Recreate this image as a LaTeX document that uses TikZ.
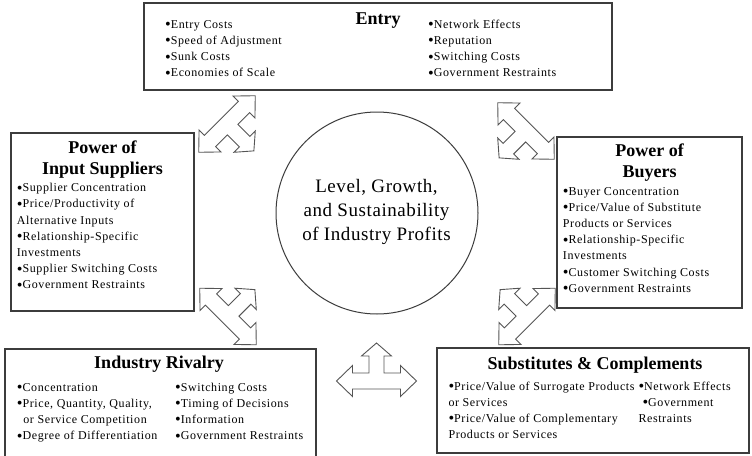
\documentclass[tikz,border=0pt]{standalone}
\usepackage{fontspec}
\usepackage{graphicx}
\setmainfont{Liberation Serif}
\newfontfamily\bodyfont[LetterSpace=5]{Liberation Serif}
\newfontfamily\circfont[LetterSpace=3]{Liberation Serif}
\newcommand\mycol[1]{\begin{tabular}[t]{@{}l@{}}#1\end{tabular}}
\newcommand\myctr[1]{\begin{tabular}[t]{@{}c@{}}#1\end{tabular}}
\newcommand\bl{\raisebox{-0.12em}{\scalebox{1.35}{\textbullet}}}
\definecolor{boxgray}{HTML}{3C3C3C}
\definecolor{arrgray}{HTML}{555555}
\tikzset{
  box/.style={draw=boxgray, line width=1.2pt, rectangle, inner sep=0pt},
  body/.style={anchor=base west, inner sep=0pt, font=\bodyfont\fontsize{12}{16.2}\selectfont},
  boxtitle/.style={anchor=base, inner sep=0pt, font=\bfseries\fontsize{18}{21}\selectfont},
  circtext/.style={anchor=base, inner sep=0pt, font=\circfont\fontsize{19}{24}\selectfont},
  tarrow/.pic={\draw[draw=arrgray, line width=0.9pt, fill=white, line join=miter]
    (-40,0) -- (-24,-15.5) -- (-24,-8) -- (-7.5,-8) -- (-7.5,-25) -- (-15,-25) -- (0,-38)
    -- (15,-25) -- (7.5,-25) -- (7.5,-8) -- (24,-8) -- (24,-15.5) -- (40,0)
    -- (24,15.5) -- (24,8) -- (-24,8) -- (-24,15.5) -- cycle;}
}
\begin{document}
\begin{tikzpicture}[x=1pt,y=-1pt]
\useasboundingbox (0,0) rectangle (752,455);
\fill[white] (0,0) rectangle (752,455);

% boxes
\node[box, minimum width=468pt, minimum height=87pt] (entry) at (378,46.5) {};
\node[box, minimum width=183pt, minimum height=178pt] (supp) at (102.5,222) {};
\node[box, minimum width=185pt, minimum height=171pt] (buy) at (649.5,222.5) {};
\node[box, minimum width=311pt, minimum height=110pt] (riv) at (160.5,404) {};
\node[box, minimum width=312pt, minimum height=105pt] (subs) at (593,400.5) {};
\node[draw=boxgray, line width=1pt, circle, minimum size=202pt, inner sep=0pt] (core) at (377,213) {};

% arrows
\pic[rotate=-135] (a1) at (227,124) {tarrow};
\pic[rotate=135] (a2) at (526,131) {tarrow};
\pic[rotate=-45] (a3) at (228,316.5) {tarrow};
\pic[rotate=45] (a4) at (527,316.5) {tarrow};
\pic (a5) at (376.5,381) {tarrow};

% circle text
\node[circtext] (coretxt) at (376.5,192.7) {\myctr{Level, Growth,\\and Sustainability\\of Industry Profits}};

% Entry
\node[boxtitle] (entryT) at (378,24) {Entry};
\node[body] (entryL) at (165,28.3) {\mycol{\bl Entry Costs\\\bl Speed of Adjustment\\\bl Sunk Costs\\\bl Economies of Scale}};
\node[body] (entryR) at (428,28.3) {\mycol{\bl Network Effects\\\bl Reputation\\\bl Switching Costs\\\bl Government Restraints}};

% Input suppliers
\node[boxtitle] (suppT) at (102.5,153.3) {\myctr{Power of\\Input Suppliers}};
\node[body] (suppL) at (16.7,191.7) {\mycol{\bl Supplier Concentration\\\bl Price/Productivity of\\Alternative Inputs\\\bl Relationship-Specific\\Investments\\\bl Supplier Switching Costs\\\bl Government Restraints}};

% Buyers
\node[boxtitle] (buyT) at (649.5,156.7) {\myctr{Power of\\Buyers}};
\node[body] (buyL) at (562.7,195) {\mycol{\bl Buyer Concentration\\\bl Price/Value of Substitute\\Products or Services\\\bl Relationship-Specific\\Investments\\\bl Customer Switching Costs\\\bl Government Restraints}};

% Industry rivalry
\node[boxtitle] (rivT) at (159,368.3) {Industry Rivalry};
\node[body] (rivL) at (16.7,391) {\mycol{\bl Concentration\\\bl Price, Quantity, Quality,\\\hspace{6.5pt}or Service Competition\\\bl Degree of Differentiation}};
\node[body] (rivR) at (175,391) {\mycol{\bl Switching Costs\\\bl Timing of Decisions\\\bl Information\\\bl Government Restraints}};

% Substitutes
\node[boxtitle] (subsT) at (595,369) {Substitutes \& Complements};
\node[body] (subsL) at (448.3,390) {\mycol{\bl Price/Value of Surrogate Products\\or Services\\\bl Price/Value of Complementary\\Products or Services}};
\node[body] (subsR) at (638.3,390) {\mycol{\bl Network Effects\\\hspace{4pt}\bl Government\\Restraints}};
\end{tikzpicture}
\end{document}
